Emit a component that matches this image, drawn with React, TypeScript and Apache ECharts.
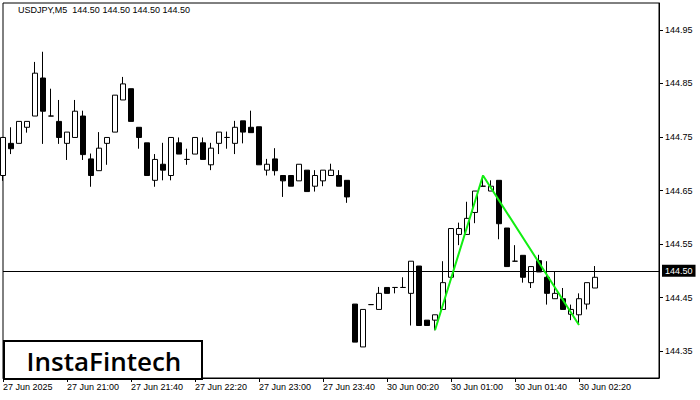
import React, { useEffect, useRef } from "react";
import * as echarts from "echarts";

const opens = [144.678,144.738,144.738,144.768,144.789,144.860,144.789,144.779,144.738,144.749,144.789,144.709,144.687,144.738,144.759,144.819,144.840,144.768,144.739,144.669,144.699,144.678,144.739,144.708,144.718,144.739,144.698,144.738,144.749,144.738,144.780,144.768,144.769,144.688,144.709,144.678,144.678,144.668,144.688,144.658,144.668,144.678,144.678,144.669,144.438,144.358,144.437,144.428,144.469,144.469,144.469,144.458,144.509,144.408,144.408,144.428,144.488,144.568,144.568,144.609,144.658,144.649,144.669,144.580,144.518,144.529,144.478,144.519,144.488,144.448,144.448,144.419,144.418,144.438,144.468];
const closes = [144.749,144.728,144.779,144.779,144.869,144.798,144.789,144.749,144.759,144.798,144.717,144.678,144.729,144.749,144.828,144.849,144.779,144.749,144.678,144.708,144.688,144.749,144.718,144.708,144.749,144.708,144.729,144.759,144.749,144.768,144.759,144.758,144.698,144.699,144.687,144.668,144.658,144.699,144.648,144.678,144.688,144.688,144.658,144.638,144.367,144.428,144.437,144.458,144.458,144.469,144.469,144.518,144.398,144.398,144.418,144.478,144.579,144.579,144.598,144.649,144.658,144.658,144.588,144.508,144.518,144.488,144.508,144.498,144.458,144.458,144.428,144.428,144.448,144.478,144.488];
const lows = [144.668,144.718,144.738,144.758,144.789,144.737,144.789,144.737,144.707,144.749,144.707,144.657,144.687,144.698,144.759,144.819,144.779,144.728,144.678,144.657,144.669,144.669,144.718,144.698,144.718,144.708,144.688,144.718,144.728,144.718,144.738,144.758,144.698,144.678,144.678,144.638,144.658,144.668,144.648,144.648,144.658,144.678,144.658,144.627,144.367,144.358,144.437,144.428,144.458,144.458,144.469,144.398,144.398,144.398,144.389,144.428,144.488,144.548,144.568,144.589,144.658,144.649,144.559,144.508,144.518,144.478,144.468,144.498,144.437,144.448,144.428,144.408,144.399,144.428,144.468];
const highs = [144.750,144.768,144.779,144.779,144.890,144.909,144.840,144.819,144.759,144.819,144.799,144.719,144.759,144.749,144.828,144.862,144.840,144.768,144.739,144.718,144.739,144.749,144.749,144.728,144.749,144.749,144.739,144.759,144.760,144.780,144.780,144.799,144.769,144.709,144.729,144.678,144.678,144.699,144.688,144.688,144.688,144.700,144.688,144.669,144.438,144.428,144.437,144.470,144.469,144.469,144.488,144.518,144.509,144.408,144.418,144.518,144.579,144.590,144.629,144.649,144.678,144.669,144.669,144.580,144.548,144.529,144.508,144.530,144.518,144.498,144.468,144.437,144.458,144.478,144.509];

const tickLabels = ["27 Jun 2025","27 Jun 21:00","27 Jun 21:40","27 Jun 22:20","27 Jun 23:00","27 Jun 23:40","30 Jun 00:20","30 Jun 01:00","30 Jun 01:40","30 Jun 02:20"];
const priceTicks = [144.35, 144.45, 144.55, 144.65, 144.75, 144.85, 144.95];
const patternIdx = [54, 60, 72];
const patternVals = [144.389, 144.678, 144.399];
const lastPrice = 144.5;
const headerText = "USDJPY,M5  144.50 144.50 144.50 144.50";

function buildCategories(n: number): string[] {
  const out: string[] = [];
  for (let i = 0; i < n; i++) {
    let day: string, mins: number;
    if (i < 44) { day = "27 Jun"; mins = 20 * 60 + 20 + i * 5; }
    else { day = "30 Jun"; mins = (i - 44) * 5; }
    const h = String(Math.floor(mins / 60)).padStart(2, "0");
    const m = String(mins % 60).padStart(2, "0");
    out.push(`${day} ${h}:${m}`);
  }
  return out;
}

export default function App() {
  const ref = useRef<HTMLDivElement>(null);
  useEffect(() => {
    if (!ref.current) return;
    const chart = echarts.init(ref.current, null, { renderer: "svg" });
    const categories = buildCategories(83);
    const candles = opens.map((o, i) => [o, closes[i], lows[i], highs[i]]);
    const font = "Liberation Sans";
    chart.setOption({
      animation: false,
      backgroundColor: "#ffffff",
      grid: { left: 3, right: 41, top: 3, bottom: 22, show: true, borderColor: "#000", borderWidth: 1, backgroundColor: "transparent" },
      xAxis: {
        type: "category",
        data: categories,
        boundaryGap: false,
        axisLine: { show: true, lineStyle: { color: "#000", width: 1 } },
        axisTick: { show: true, length: 4, lineStyle: { color: "#000" }, interval: (idx: number) => idx % 8 === 0 && idx <= 72 },
        axisLabel: {
          show: true,
          interval: 0,
          align: "left",
          margin: 4,
          color: "#000",
          fontSize: 9,
          fontFamily: font,
          formatter: (_v: string, idx: number) => (idx % 8 === 0 && idx / 8 < tickLabels.length ? tickLabels[idx / 8] : ""),
        },
        splitLine: { show: false },
      },
      yAxis: {
        type: "value",
        position: "right",
        min: 144.3,
        max: 145.0,
        scale: true,
        axisLine: { show: true, lineStyle: { color: "#000" } },
        axisTick: { show: true, length: 4, lineStyle: { color: "#000" }, customValues: priceTicks },
        axisLabel: { show: true, margin: 6, color: "#000", fontSize: 9, fontFamily: font, customValues: priceTicks, formatter: (v: number) => v.toFixed(2) },
        splitLine: { show: false },
      },
      series: [
        {
          type: "candlestick",
          data: candles,
          barWidth: 5,
          clip: false,
          itemStyle: { color: "#ffffff", color0: "#000000", borderColor: "#000000", borderColor0: "#000000", borderColorDoji: "#000000", borderWidth: 1 },
          markLine: {
            silent: true,
            symbol: ["none", "none"],
            lineStyle: { color: "#000", width: 1, type: "solid" },
            label: { show: true, position: "end", distance: 3, formatter: lastPrice.toFixed(2), color: "#fff", backgroundColor: "#000", padding: [2, 3, 1, 3], fontSize: 9, fontFamily: font },
            data: [{ yAxis: lastPrice }],
          },
        },
        {
          type: "line",
          data: patternIdx.map((ix, k) => [categories[ix], patternVals[k]]),
          symbol: "none",
          lineStyle: { color: "#11ee11", width: 2 },
          z: 5,
        },
      ],
      graphic: [
        { type: "text", left: 18, top: 5, style: { text: headerText, fill: "#000", fontSize: 9, fontFamily: font } },
        {
          type: "group", left: 3, top: 340,
          children: [
            { type: "rect", shape: { x: 0, y: 0, width: 198, height: 38 }, style: { fill: "#fff", stroke: "#000", lineWidth: 2 } },
            { type: "text", x: 100, y: 20, style: { text: "InstaFintech", fill: "#000", fontSize: 26, fontWeight: 600, fontFamily: "Open Sans", align: "center", verticalAlign: "middle" } },
          ],
        },
      ],
    });
    return () => chart.dispose();
  }, []);
  return <div ref={ref} style={{ position: "absolute", left: 0, top: 0, width: 700, height: 400 }} />;
}
